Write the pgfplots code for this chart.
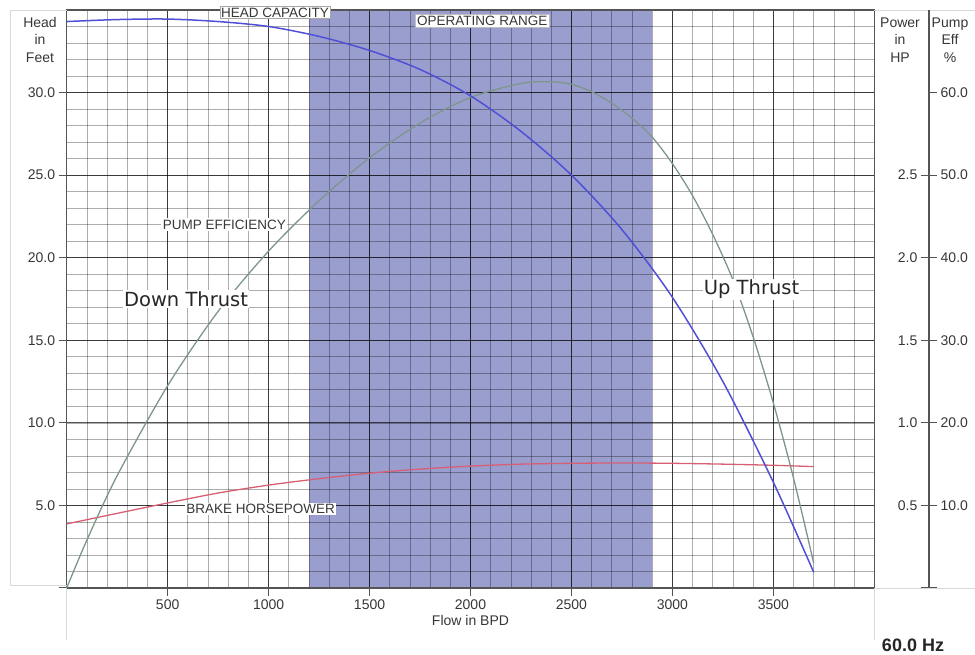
\documentclass[border=0pt]{standalone}
\usepackage{pgfplots}
\usepackage{pgfplotstable}
\pgfplotsset{compat=1.18}
\usepackage{fontspec}
\setmainfont{Liberation Sans}
\newfontfamily\dejavu{DejaVu Sans}
\definecolor{opband}{RGB}{154,158,207}
\definecolor{headc}{RGB}{80,80,215}
\definecolor{effc}{RGB}{125,150,140}
\definecolor{hpc}{RGB}{215,95,115}
\definecolor{gridmaj}{RGB}{85,85,85}
\definecolor{gridmin}{RGB}{170,170,170}
\definecolor{txt}{RGB}{55,55,55}

\pgfplotstableread{
x head
0 34.3
250 34.42
500 34.45
750 34.3
1000 34.0
1250 33.4
1500 32.55
1750 31.4
2000 29.8
2250 27.65
2500 25.0
2750 21.7
3000 17.6
3250 12.5
3500 6.4
3700 0.95
}\headtable

\pgfplotstableread{
x eff
0 0
100 5.8
250 13.6
500 24.5
750 33.5
1000 40.8
1250 46.9
1500 52.1
1750 56.3
2000 59.4
2250 61.1
2400 61.3
2500 61.0
2600 60.1
2700 58.7
2800 56.9
2900 54.6
3000 51.4
3100 47.5
3200 42.8
3300 37.3
3400 30.4
3500 22.4
3600 13.3
3700 3.0
}\efftable

\pgfplotstableread{
x hp
0 0.388
250 0.452
500 0.515
750 0.575
1000 0.623
1250 0.662
1500 0.695
1750 0.72
2000 0.738
2250 0.75
2500 0.755
2750 0.757
3000 0.755
3250 0.75
3500 0.743
3700 0.735
}\hptable

\begin{document}
\begin{tikzpicture}
% faint outer frame
\draw[black!15, line width=0.8pt] (66.7pt,645pt) -- (10pt,645pt) -- (10pt,70pt) -- (66.7pt,70pt);
\draw[black!15, line width=0.8pt] (66.7pt,67pt) -- (66.7pt,15pt);
\draw[black!15, line width=0.8pt] (874.3pt,67pt) -- (874.3pt,15pt);
\draw[black!15, line width=0.8pt] (874.3pt,67pt) -- (975pt,67pt);
\draw[black!15, line width=0.8pt] (874.3pt,645pt) -- (975pt,645pt);

\begin{axis}[
  at={(66.7pt,67pt)}, anchor=south west,
  scale only axis, width=807.6pt, height=578pt,
  xmin=0, xmax=4000, ymin=0, ymax=35,
  set layers, clip=false,
  xtick={0,500,...,4000},
  xticklabels={,500,1000,1500,2000,2500,3000,3500,},
  ytick={0,5,...,30},
  yticklabels={,5.0,10.0,15.0,20.0,25.0,30.0},
  minor xtick={100,200,...,3900},
  minor ytick={1,2,...,34},
  grid=both,
  major grid style={draw=black, draw opacity=0.66, line width=1pt},
  minor grid style={draw=black, draw opacity=0.32, line width=0.7pt},
  axis line style={draw=gridmaj, line width=1.1pt},
  tick pos=left, tick align=outside,
  major tick length=8pt, minor tick length=0pt,
  major tick style={draw=gridmaj, line width=1pt},
  ticklabel style={font=\fontsize{14}{16}\selectfont, text=txt},
  xlabel={Flow in BPD},
  xlabel style={font=\fontsize{14}{16}\selectfont, text=txt, at={(axis description cs:0.5,0)}, anchor=center, yshift=-33pt},
]
\addplot[fill=opband, draw=none, on layer=axis background] coordinates {(1200,35) (2900,35)} \closedcycle;
\addplot[hpc, line width=1.3pt, smooth] table[x=x, y expr=\thisrow{hp}*10] {\hptable};
\addplot[effc, line width=1.3pt, smooth] table[x=x, y expr=\thisrow{eff}/2] {\efftable};
\addplot[headc, line width=1.5pt, smooth] table[x=x, y=head] {\headtable};

\node[font=\fontsize{13.5}{15}\selectfont, text=txt, fill=white, draw=black!35, line width=0.5pt, inner sep=1pt] at (axis cs:1032,34.85) {HEAD CAPACITY};
\node[font=\fontsize{13.5}{15}\selectfont, text=txt, fill=white, draw=black!25, line width=0.5pt, inner sep=1.5pt] at (axis cs:2058,34.36) {OPERATING RANGE};
\node[font=\fontsize{13.5}{15}\selectfont, text=txt, fill=white, inner sep=1.5pt] at (axis cs:781,22.0) {PUMP EFFICIENCY};
\node[font=\fontsize{13.5}{15}\selectfont, text=txt, fill=white, inner sep=1.5pt] at (axis cs:960,4.79) {BRAKE HORSEPOWER};
\node[font=\dejavu\fontsize{19.5}{22}\selectfont, text=black!85, fill=white, inner sep=1pt] at (axis cs:591,17.5) {Down Thrust};
\node[font=\dejavu\fontsize{19.5}{22}\selectfont, text=black!85, fill=white, inner sep=1pt] at (axis cs:3392,18.1) {Up Thrust};
\end{axis}

% Power axis (left side of the right-hand scale)
\begin{axis}[
  at={(929pt,67pt)}, anchor=south west,
  scale only axis, width=0.1pt, height=578pt,
  xmin=0, xmax=1, ymin=0, ymax=3.5,
  axis x line=none, axis y line*=left,
  axis line style={draw=gridmaj, line width=1.1pt},
  ytick={0,0.5,1,1.5,2,2.5},
  yticklabels={,0.5,1.0,1.5,2.0,2.5},
  tick align=outside, major tick length=8pt,
  major tick style={draw=gridmaj, line width=1pt},
  ticklabel style={font=\fontsize{14}{16}\selectfont, text=txt},
]
\addplot[draw=none] coordinates {(0,0) (1,3.5)};
\end{axis}

% Pump efficiency axis (right side of the right-hand scale)
\begin{axis}[
  at={(929pt,67pt)}, anchor=south west,
  scale only axis, width=0.1pt, height=578pt,
  xmin=0, xmax=1, ymin=0, ymax=70,
  axis x line=none, axis y line*=right,
  axis line style={draw=gridmaj, line width=1.1pt},
  ytick={0,10,20,30,40,50,60},
  yticklabels={,10.0,20.0,30.0,40.0,50.0,60.0},
  tick align=outside, major tick length=8pt,
  major tick style={draw=gridmaj, line width=1pt},
  ticklabel style={font=\fontsize{14}{16}\selectfont, text=txt},
]
\addplot[draw=none] coordinates {(0,0) (1,70)};
\end{axis}

\node[align=center, font=\fontsize{14}{17.5}\selectfont, text=txt] at (40pt,615pt) {Head\\in\\Feet};
\node[align=center, font=\fontsize{14}{17.5}\selectfont, text=txt] at (900pt,615pt) {Power\\in\\HP};
\node[align=center, font=\fontsize{14}{17.5}\selectfont, text=txt] at (950pt,615pt) {Pump\\Eff\\\%};
\node[font=\bfseries\fontsize{18}{20}\selectfont, text=black!85] at (913pt,10pt) {60.0 Hz};
\pgfresetboundingbox
\useasboundingbox (0,0) rectangle (975pt,655pt);
\end{tikzpicture}
\end{document}
